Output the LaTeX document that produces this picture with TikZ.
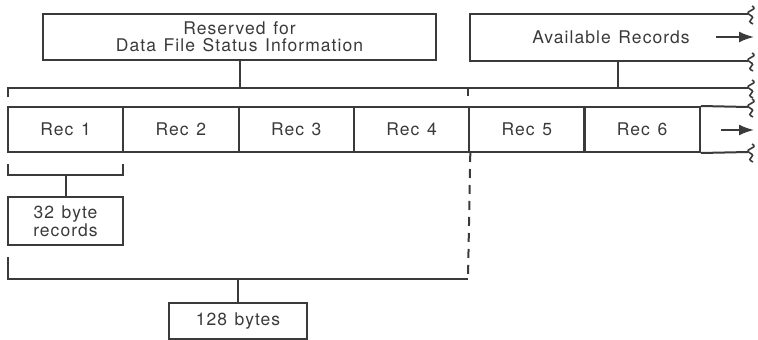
\documentclass[tikz,border=0pt]{standalone}
\usepackage{fontspec}
\setmainfont[LetterSpace=6,WordSpace=1.3]{TeX Gyre Heros}
\usetikzlibrary{arrows.meta}
\definecolor{ink}{RGB}{58,58,58}
\tikzset{
  tear/.pic={\draw[line width=1.6pt] (2,-8) .. controls (10,-4) and (-8,-3) .. (0,1) .. controls (8,5) and (-6,6) .. (3,10);},
  cell/.style={draw,minimum width=115.5pt,minimum height=45pt,inner sep=0pt},
  infobox/.style={draw,inner sep=0pt,align=center},
  goon/.style={-{Latex[length=15pt,width=11pt]}}
}
\begin{document}
\begin{tikzpicture}[x=1pt,y=-1pt,ink,line width=2pt,
    font=\fontsize{17.5}{17.5}\selectfont,text=ink]
   \useasboundingbox (0,0) rectangle (758,340);
   % top boxes
   \node[infobox,minimum width=393pt,minimum height=46pt] (resv) at (239.5,37)
     {Reserved for\\Data File Status Information};
   \coordinate (avtl) at (470,14);
   \coordinate (avbl) at (470,61);
   \node (avail) at (611,37) {Available Records};
   \draw (748,14) -- (avtl) -- (avbl) -- (748,61);
   \draw[goon] (716,37) -- (754,37);
   % brace over the records
   \coordinate (bl) at (8,88);
   \coordinate (bm) at (468,88);
   \draw (8,97) -- (bl) -- (748,88);
   \draw (bm) -- (468,96);
   \draw (resv.south) -- (resv.south |- bl);
   \draw (618,61) -- (618,88);
   % records
   \foreach \i in {1,...,6}
     \node[cell] (rec\i) at ({8+115.3*(\i-0.5)},129.5) {Rec \i};
   \draw (rec6.north east) -- (748,107);
   \draw (rec6.south east) -- (748,152);
   \draw[goon] (721,130) -- (754,130);
   \foreach \y in {14,61,88,107,152}
     \pic at (750,\y) {tear};
   % one record
   \draw (8,164) -- (8,175) -- (123,175) -- (123,164);
   \node[infobox,minimum width=115pt,minimum height=48pt] (rsize) at (65.5,221)
     {32 byte\\records};
   \draw (rsize.north) -- (rsize.north |- 0,175);
   % one sector
   \draw (8,257) -- (8,279) -- (468,279);
   \draw[dashed,dash pattern=on 9pt off 7pt] (rec4.south east) -- (468,279);
   \node[infobox,minimum width=138pt,minimum height=36pt] (ssize) at (238,321)
     {128 bytes};
   \draw (ssize.north) -- (ssize.north |- 0,279);
\end{tikzpicture}
\end{document}
